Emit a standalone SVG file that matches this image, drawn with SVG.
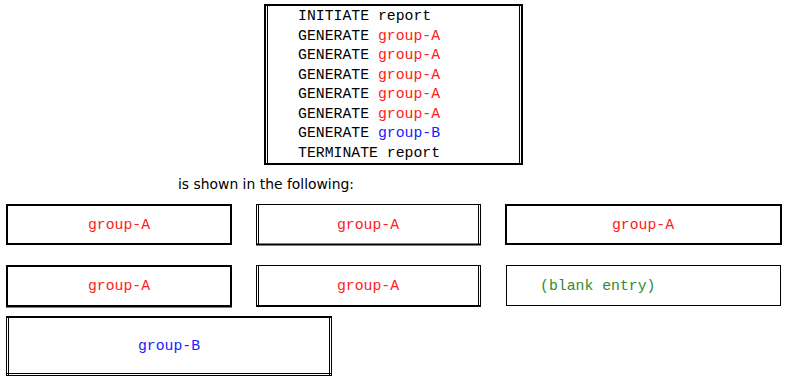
<svg xmlns="http://www.w3.org/2000/svg" width="787" height="383" viewBox="0 0 787 383">
<style>
.m{font-family:"Liberation Mono","Courier New",monospace;font-size:14.8px}
.k{fill:#000}.a{fill:#ff2020}.b{fill:#2020ff}.g{fill:#2e8b2e}
.thick{fill:none;stroke:#000;stroke-width:2}
.thin{fill:none;stroke:#000;stroke-width:1}
.in{stroke:#000;stroke-width:1}
.c{text-anchor:middle}
</style>
<rect width="787" height="383" fill="#fff"/>
<g id="listing">
<rect class="thick" x="265" y="5" width="257" height="159"/>
<line class="in" x1="267.5" y1="6" x2="267.5" y2="163"/>
<line class="in" x1="519.5" y1="6" x2="519.5" y2="163"/>
<text class="m" x="298" y="20"><tspan class="k">INITIATE report</tspan></text>
<text class="m" x="298" y="39.5"><tspan class="k">GENERATE </tspan><tspan class="a">group-A</tspan></text>
<text class="m" x="298" y="59"><tspan class="k">GENERATE </tspan><tspan class="a">group-A</tspan></text>
<text class="m" x="298" y="78.5"><tspan class="k">GENERATE </tspan><tspan class="a">group-A</tspan></text>
<text class="m" x="298" y="98"><tspan class="k">GENERATE </tspan><tspan class="a">group-A</tspan></text>
<text class="m" x="298" y="117.5"><tspan class="k">GENERATE </tspan><tspan class="a">group-A</tspan></text>
<text class="m" x="298" y="137"><tspan class="k">GENERATE </tspan><tspan class="b">group-B</tspan></text>
<text class="m" x="298" y="156.5"><tspan class="k">TERMINATE report</tspan></text>
</g>
<g id="caption">
<text x="178" y="189" font-family="'DejaVu Sans',sans-serif" font-size="14" textLength="176" lengthAdjust="spacingAndGlyphs" fill="#000">is shown in the following:</text>
</g>
<g id="r1a">
<rect class="thick" x="7" y="205" width="224" height="39"/>
<text class="m a c" x="119" y="229">group-A</text>
</g>
<g id="r1b">
<rect class="thin" x="256.5" y="204.5" width="224" height="40"/>
<line class="in" x1="258.5" y1="205" x2="258.5" y2="244"/>
<line class="in" x1="478.5" y1="205" x2="478.5" y2="244"/>
<line x1="256" y1="244.5" x2="481" y2="244.5" stroke="#000" stroke-width="2"/>
<text class="m a c" x="368" y="229">group-A</text>
</g>
<g id="r1c">
<rect class="thick" x="506" y="205" width="275" height="39"/>
<text class="m a c" x="643" y="229">group-A</text>
</g>
<g id="r2a">
<rect class="thick" x="7" y="266" width="224" height="40"/>
<line x1="6" y1="306.5" x2="232" y2="306.5" stroke="#000" stroke-width="2"/>
<text class="m a c" x="119" y="290">group-A</text>
</g>
<g id="r2b">
<rect class="thin" x="256.5" y="265.5" width="224" height="41"/>
<line class="in" x1="258.5" y1="266" x2="258.5" y2="306"/>
<line class="in" x1="478.5" y1="266" x2="478.5" y2="306"/>
<line x1="256" y1="306" x2="481" y2="306" stroke="#000" stroke-width="2"/>
<text class="m a c" x="368" y="290">group-A</text>
</g>
<g id="r2c">
<rect class="thin" x="506.5" y="265.5" width="274" height="40"/>
<text class="m g" x="540" y="290">(blank entry)</text>
</g>
<g id="r3">
<rect class="thin" x="6.5" y="316.5" width="325" height="59"/>
<line class="in" x1="8.5" y1="317" x2="8.5" y2="375"/>
<line class="in" x1="329.5" y1="317" x2="329.5" y2="375"/>
<line class="in" x1="7" y1="373.5" x2="331" y2="373.5"/>
<line x1="6" y1="317" x2="332" y2="317" stroke="#000" stroke-width="2"/>
<text class="m b c" x="169" y="350">group-B</text>
</g>
</svg>
